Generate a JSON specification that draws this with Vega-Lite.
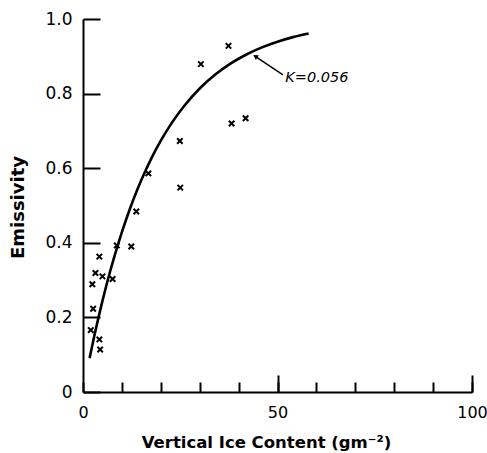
{
  "$schema": "https://vega.github.io/schema/vega-lite/v6.json",
  "width": 389,
  "height": 373,
  "autosize": "none",
  "padding": {"left": 83, "top": 19, "right": 15, "bottom": 61},
  "background": "white",
  "config": {
    "view": {"stroke": null},
    "font": "DejaVu Sans",
    "axis": {"labelFont": "DejaVu Sans", "titleFont": "DejaVu Sans", "labelColor": "black", "titleColor": "black", "domainColor": "black", "tickColor": "black", "grid": false, "domainWidth": 2, "tickWidth": 2}
  },
  "datasets": {
    "curve": [
      {"ice": 1.7, "emis": 0.0908},
      {"ice": 2, "emis": 0.106},
      {"ice": 3, "emis": 0.1546},
      {"ice": 4, "emis": 0.2007},
      {"ice": 5, "emis": 0.2442},
      {"ice": 6, "emis": 0.2854},
      {"ice": 7, "emis": 0.3243},
      {"ice": 8, "emis": 0.3611},
      {"ice": 10, "emis": 0.4288},
      {"ice": 12, "emis": 0.4893},
      {"ice": 14, "emis": 0.5434},
      {"ice": 16, "emis": 0.5918},
      {"ice": 18, "emis": 0.6351},
      {"ice": 20, "emis": 0.6737},
      {"ice": 23, "emis": 0.7242},
      {"ice": 26, "emis": 0.7668},
      {"ice": 30, "emis": 0.8136},
      {"ice": 34, "emis": 0.851},
      {"ice": 38, "emis": 0.8809},
      {"ice": 42, "emis": 0.9048},
      {"ice": 46, "emis": 0.9239},
      {"ice": 50, "emis": 0.9392},
      {"ice": 54, "emis": 0.9514},
      {"ice": 58, "emis": 0.9611}
    ],
    "obs": [
      {"ice": 37.4, "emis": 0.928},
      {"ice": 30.3, "emis": 0.879},
      {"ice": 38.2, "emis": 0.72},
      {"ice": 41.8, "emis": 0.734},
      {"ice": 24.9, "emis": 0.673},
      {"ice": 16.8, "emis": 0.586},
      {"ice": 25.0, "emis": 0.548},
      {"ice": 13.7, "emis": 0.484},
      {"ice": 8.7, "emis": 0.393},
      {"ice": 12.4, "emis": 0.39},
      {"ice": 4.2, "emis": 0.363},
      {"ice": 3.2, "emis": 0.319},
      {"ice": 5.0, "emis": 0.31},
      {"ice": 7.6, "emis": 0.303},
      {"ice": 2.4, "emis": 0.289},
      {"ice": 2.6, "emis": 0.223},
      {"ice": 2.0, "emis": 0.166},
      {"ice": 4.2, "emis": 0.141},
      {"ice": 4.4, "emis": 0.114}
    ],
    "note": [
      {"ice": 51.4, "emis": 0.85, "ice2": 44.3, "emis2": 0.9, "label": "K=0.056", "tx": 52, "ty": 0.842}
    ]
  },
  "resolve": {"axis": {"x": "independent", "y": "independent"}},
  "layer": [
    {
      "data": {"name": "curve"},
      "mark": {"type": "line", "color": "black", "strokeWidth": 2.6, "interpolate": "monotone"},
      "encoding": {
        "x": {"field": "ice", "type": "quantitative", "scale": {"domain": [0, 100], "nice": false},
          "axis": {"orient": "bottom", "values": [0, 10, 20, 30, 40, 50, 60, 70, 80, 90, 100],
            "tickSize": -10,
            "labelExpr": "datum.value % 50 == 0 ? datum.label : ''",
            "labelFontSize": 16, "labelPadding": 22, "labelFlush": false,
            "title": "Vertical Ice Content (gm⁻²)", "titleFontSize": 16.5, "titleFontWeight": "bold", "titlePadding": 14, "titleX": 183}},
        "y": {"field": "emis", "type": "quantitative", "scale": {"domain": [0, 1], "nice": false},
          "axis": {"orient": "left", "values": [0, 0.2, 0.4, 0.6, 0.8, 1.0], "tickSize": -17,
            "labelExpr": "datum.value == 0 ? '0' : format(datum.value, '.1f')",
            "labelFontSize": 17, "labelPadding": 28, "labelFlush": false,
            "title": "Emissivity", "titleFontSize": 18, "titleFontWeight": "bold", "titlePadding": 17, "titleY": 188}}
      }
    },
    {
      "data": {"name": "obs"},
      "mark": {"type": "point", "shape": "M-1,-1L1,1M1,-1L-1,1", "filled": false, "color": "black", "strokeWidth": 2, "size": 30, "opacity": 1},
      "encoding": {
        "x": {"field": "ice", "type": "quantitative",
          "axis": {"orient": "bottom", "values": [50, 100], "tickSize": -17, "labels": false, "domain": false, "title": null}},
        "y": {"field": "emis", "type": "quantitative", "axis": null}
      }
    },
    {
      "data": {"name": "note"},
      "mark": {"type": "rule", "color": "black", "strokeWidth": 1.5},
      "encoding": {
        "x": {"field": "ice", "type": "quantitative", "axis": null},
        "y": {"field": "emis", "type": "quantitative", "axis": null},
        "x2": {"field": "ice2"},
        "y2": {"field": "emis2"}
      }
    },
    {
      "data": {"name": "note"},
      "mark": {"type": "point", "shape": "triangle-up", "filled": true, "color": "black", "size": 30, "angle": 303, "opacity": 1},
      "encoding": {
        "x": {"field": "ice2", "type": "quantitative", "axis": null},
        "y": {"field": "emis2", "type": "quantitative", "axis": null}
      }
    },
    {
      "data": {"name": "note"},
      "mark": {"type": "text", "align": "left", "baseline": "middle", "fontSize": 14.5, "fontStyle": "italic", "font": "DejaVu Sans", "color": "black"},
      "encoding": {
        "x": {"field": "tx", "type": "quantitative", "axis": null},
        "y": {"field": "ty", "type": "quantitative", "axis": null},
        "text": {"field": "label"}
      }
    }
  ]
}
